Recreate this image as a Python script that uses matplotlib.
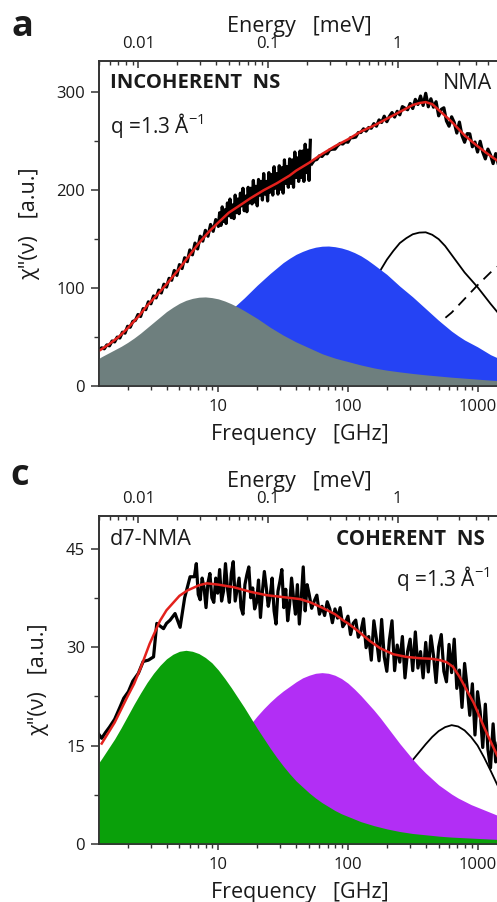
import numpy as np
import matplotlib
matplotlib.use("Agg")
import matplotlib.pyplot as plt
from matplotlib.ticker import LogLocator, FuncFormatter, NullFormatter, MultipleLocator

plt.rcParams['font.family'] = ['Open Sans', 'DejaVu Sans']
plt.rcParams['mathtext.fontset'] = 'custom'
plt.rcParams['mathtext.rm'] = 'Open Sans'

# ---------------- data (log10 of frequency in GHz, values in a.u.) ----------------
GHZ_PER_MEV = 241.8
freq_range = (1.2, 1490.0)

# grid of the fitted components: log10(f) = 0.00, 0.05, ..., 3.30
comp_log_f = np.linspace(0.0, 3.3, 67)

# panel a (NMA, incoherent)
a_gray = [22, 26, 30, 33.5, 37, 40.5, 44.5, 49, 54, 59.5, 65, 70.5, 76, 80.5, 84.5, 87.5, 89.5,
          90.7, 91, 90.3, 89, 86.8, 84, 80.7, 77, 73, 69, 64.5, 60, 56, 52, 48.5, 45, 42, 39,
          36, 33, 30.7, 28.5, 26.7, 25, 23.2, 21.5, 20, 18.5, 17.3, 16.2, 15.3, 14.4, 13.6,
          12.8, 12.1, 11.4, 10.8, 10.2, 9.6, 9.0, 8.5, 8.0, 7.5, 7.0, 6.5, 6.0, 5.6, 5.2, 4.8,
          4.5]
a_blue = [5, 6, 7, 8, 9, 10.5, 12, 14, 16, 18.5, 21, 24.5, 28, 32, 36, 40.5, 45, 50, 55, 60.5,
          66, 72, 78, 84, 90, 96.5, 103, 109, 115, 120.5, 126, 130.5, 134.5, 137.5, 140, 141.8,
          142.8, 143, 142.3, 141, 139, 136.3, 133, 128.8, 124, 119, 114, 108, 102, 96.5, 91, 85,
          79, 73, 67, 61.5, 56, 51.3, 47, 43.5, 40, 36, 32, 29, 26, 23.5, 21]
a_peak_log_f = np.linspace(1.5, 3.3, 37)
a_peak = [10, 12.5, 15, 18.5, 22, 27, 32, 38, 44, 52, 60, 70, 80, 93, 106, 118, 129, 138, 146,
          151, 155, 156.7, 157, 154.5, 150, 143, 134, 125, 116, 108.5, 101, 92.5, 84, 76, 68,
          61, 55]
a_dash_log_f = np.linspace(1.8, 3.3, 16)
a_dash = [3, 5, 7, 10, 14, 20, 26, 35, 48, 64, 75, 89, 103, 116, 127, 136]

a_fit_log_f = [0.08, 0.15, 0.23, 0.30, 0.39, 0.45, 0.54, 0.60, 0.70, 0.78, 0.85, 0.93, 1.00,
               1.08, 1.16, 1.25, 1.35, 1.45, 1.55, 1.60, 1.70, 1.80, 1.90, 2.00, 2.10, 2.20,
               2.30, 2.40, 2.50, 2.55, 2.60, 2.65, 2.70, 2.80, 2.90, 3.00, 3.10, 3.20]
a_fit = [36, 42, 50, 59, 72, 82, 95, 104, 120, 134, 146, 158, 167, 177, 184, 192, 200, 207,
         215, 220, 228, 237, 245, 252, 260, 266, 273, 280, 287, 289, 290, 288, 282, 270, 256,
         245, 235, 226]

# measured spectrum, low-frequency instrument (1.2 - 50 GHz)
a_low_1 = [37, 39, 38, 42, 41, 46, 45, 50, 49, 55, 54, 61, 60, 66, 67, 73, 71, 79, 78, 86,
           84, 92, 90, 98, 95, 104, 101, 110, 108, 118, 113, 124, 120, 131, 127, 139, 134,
           146, 140, 153, 148, 159, 153, 165, 158, 170, 163]
a_low_2 = [177, 164, 183, 168, 180, 166, 187, 174, 191, 172, 185, 171, 195, 177, 191, 176, 197,
           184, 202, 179, 194, 178, 203, 187, 202, 186, 210, 188, 204, 184, 211, 195, 209, 190,
           217, 196, 209, 189, 218, 198, 216, 195, 224, 202, 217, 196, 225, 201, 223, 197, 231,
           207, 224, 203, 232, 207, 231, 203, 239, 213, 233, 209, 240, 213, 240, 209, 247, 218,
           241, 210, 251]
# measured spectrum, high-frequency instrument (50 GHz and up)
a_high = [226.8, 230.6, 231.4, 235.2, 234.5, 237.6, 237.2, 241.3, 241.9, 242, 245.4, 247.8,
          247.2, 249.6, 249, 253.6, 253.7, 254.3, 258.9, 259, 262.7, 260.4, 264.1, 263.3, 268,
          265.4, 271.8, 269.2, 275.6, 270, 275.4, 279.3, 274.7, 280.6, 277, 285.4, 283.8,
          282.2, 288.6, 283.5, 292.8, 287.6, 296.2, 286.6, 299,
          285.2, 293.4, 284.8, 290.4, 276, 282.6, 284.2, 270.8, 265.4, 275, 269.2, 258.4,
          269.6, 255.8, 249, 257.8, 257.6, 244.4, 249.2, 239, 250, 239, 232, 242, 236, 227.2,
          237.4, 226.6, 222.8, 230]

# panel c (d7-NMA, coherent)
c_green = [10.2, 11.6, 13.0, 14.5, 16.0, 17.7, 19.5, 21.3, 23.0, 24.6, 26.0, 27.2, 28.2, 28.9,
           29.35, 29.5, 29.35, 29.0, 28.4, 27.6, 26.5, 25.2, 23.8, 22.3, 20.8, 19.2, 17.6, 16.1,
           14.6, 13.2, 11.9, 10.7, 9.6, 8.7, 7.8, 7.0, 6.3, 5.7, 5.1, 4.6, 4.2, 3.8, 3.4, 3.1,
           2.8, 2.55, 2.3, 2.1, 1.9, 1.75, 1.6, 1.5, 1.4, 1.3, 1.2, 1.12, 1.05, 1.0, 0.95, 0.9,
           0.85, 0.8, 0.75, 0.7, 0.65, 0.6, 0.55]
c_violet = [1.5, 1.75, 2.0, 2.25, 2.5, 2.85, 3.2, 3.6, 4.0, 4.5, 5.1, 5.8, 6.5, 7.2, 7.9, 8.7,
            9.5, 10.3, 11.2, 12.1, 13.0, 14.0, 15.0, 16.0, 17.1, 18.3, 19.5, 20.6, 21.6, 22.5,
            23.3, 24.0, 24.7, 25.3, 25.7, 26.0, 26.1, 26.0, 25.7, 25.2, 24.5, 23.6, 22.6, 21.5,
            20.4, 19.2, 17.9, 16.6, 15.3, 14.1, 12.9, 11.8, 10.8, 9.9, 9.0, 8.3, 7.6, 7.0, 6.5,
            6.0, 5.6, 5.2, 4.8, 4.4, 4.1, 3.8, 3.5]
c_peak_log_f = np.linspace(2.0, 3.3, 27)
c_peak = [2.0, 2.7, 3.5, 4.5, 5.5, 6.7, 8.0, 9.2, 10.5, 11.6, 12.8, 14.0, 15.2, 16.3, 17.2,
          17.8, 18.1, 17.9, 17.3, 16.3, 15.0, 13.2, 11.2, 9.1, 7.2, 5.7, 4.5]

c_fit_log_f = [0.10, 0.20, 0.30, 0.35, 0.40, 0.47, 0.55, 0.60, 0.70, 0.76, 0.85, 0.91, 1.00,
               1.12, 1.25, 1.37, 1.50, 1.63, 1.71, 1.80, 1.90, 1.96, 2.00, 2.08, 2.17, 2.25,
               2.35, 2.45, 2.55, 2.65, 2.71, 2.76, 2.81, 2.86, 2.92, 2.97, 3.05, 3.12, 3.20]
c_fit = [15.3, 18.5, 22.5, 24.4, 26.8, 30.5, 34.0, 35.6, 37.8, 38.6, 39.4, 39.7, 39.5, 39.1,
         38.4, 37.9, 37.6, 37.3, 36.8, 36.0, 35.0, 34.1, 33.6, 32.4, 30.9, 29.8, 28.9, 28.5,
         28.3, 28.2, 28.0, 27.7, 27.0, 25.5, 23.3, 21.5, 17.8, 14.8, 11.5]

c_low_log_f = [0.075, 0.10, 0.13, 0.16, 0.20, 0.24, 0.27, 0.306, 0.34, 0.383, 0.42, 0.46, 0.50,
               0.525, 0.55, 0.577, 0.60, 0.628, 0.666, 0.705, 0.74, 0.782, 0.815]
c_low = [16.8, 16.1, 17.0, 17.8, 19.0, 20.8, 22.2, 23.2, 24.8, 26.0, 27.8, 28.0, 28.5, 33.6,
         33.2, 32.8, 33.6, 34.1, 35.1, 33.0, 37.5, 40.7, 40.7]
c_mid = [42.7, 38.0, 37.2, 40.5, 39.0, 36.0, 39.8, 41.2, 37.5, 36.8, 40.5, 38.2, 41.8, 37.0,
         38.5, 42.7, 39.0, 36.8, 41.2, 43.0, 37.0, 38.8, 40.5, 36.0, 35.0, 39.5, 41.0, 42.2,
         37.5, 39.0, 35.8, 36.8, 40.2, 34.5, 38.5, 41.5, 39.0, 36.2, 37.8, 40.5, 35.5, 33.5,
         38.5, 40.0, 41.8, 36.0, 38.8, 34.0, 36.5, 40.5, 37.5, 35.0, 39.5, 33.5, 37.5, 42.2,
         35.5, 39.5]
c_high = [38.1, 35.9, 37.0, 37.9, 35.0, 36.2, 34.8, 36.9, 35.8, 33.7, 35.8, 34.4, 36.0, 33.1,
          33.7, 34.7, 31.9, 33.6, 34.1, 31.5, 32.4,
          34.3, 29.9, 31.6, 28.0, 34.0, 31.2, 27.9, 34.2, 28.5, 26.3, 31.1, 34.0, 26.4, 30.3,
          27.7, 31.6, 25.3, 29.3, 31.2, 26.4, 32.3, 26.8, 29.3, 25.3, 30.7,
          26.2, 31.7, 28.7, 24.6, 30.0, 31.9, 26.3, 24.7, 30.4, 26.1, 31.2, 23.7, 26.5, 20.8,
          27.5, 23.8, 19.6, 24.4, 16.6, 23.2, 20.2, 14.7, 21.3, 14.4, 11.6, 18.3, 12.5, 15.7,
          8.8, 13.0]

# ---------------- styling ----------------
C_GRAY = '#6e7f7e'
C_BLUE = '#2543f4'
C_GREEN = '#0aa00a'
C_VIOLET = '#b22ef5'
C_RED = '#e3211c'
C_SPINE = '#333333'
TXT = '#1a1a1a'
TICK_FS = 12
LABEL_FS = 15.5
DATA_LW = 2.3
FIT_LW = 1.8


def ghz(logf):
    return 10 ** np.asarray(logf, dtype=float)


fmt = FuncFormatter(lambda v, p: '%g' % v)


def style(ax, ylim, ymaj, ymin):
    ax.set_xscale('log')
    ax.set_xlim(*freq_range)
    ax.set_ylim(*ylim)
    ax.yaxis.set_major_locator(MultipleLocator(ymaj))
    ax.yaxis.set_minor_locator(MultipleLocator(ymin))
    ax.xaxis.set_major_locator(LogLocator(base=10))
    ax.xaxis.set_minor_locator(LogLocator(base=10, subs=np.arange(2, 10)))
    ax.xaxis.set_major_formatter(fmt)
    ax.xaxis.set_minor_formatter(NullFormatter())
    ax.tick_params(axis='y', which='major', direction='out', length=6, width=1.1,
                   pad=4, labelsize=TICK_FS, colors=C_SPINE, labelcolor=TXT)
    ax.tick_params(axis='y', which='minor', direction='out', length=3.5, width=1.0,
                   colors=C_SPINE)
    ax.tick_params(axis='x', which='major', direction='out', length=4.5, width=1.1,
                   pad=5, labelsize=TICK_FS, colors=C_SPINE, labelcolor=TXT)
    ax.tick_params(axis='x', which='minor', direction='out', length=3, width=1.0,
                   colors=C_SPINE)
    for s in ax.spines.values():
        s.set_color(C_SPINE)
        s.set_linewidth(1.2)
    ax.set_xlabel('Frequency   [GHz]', fontsize=LABEL_FS, color=TXT, labelpad=6)
    ax.set_ylabel('χ"(ν)   [a.u.]', fontsize=LABEL_FS, color=TXT, labelpad=12)

    top = ax.twiny()
    top.set_xscale('log')
    top.set_xlim(freq_range[0] / GHZ_PER_MEV, freq_range[1] / GHZ_PER_MEV)
    top.xaxis.set_major_locator(LogLocator(base=10))
    top.xaxis.set_minor_locator(LogLocator(base=10, subs=np.arange(2, 10)))
    top.xaxis.set_major_formatter(fmt)
    top.xaxis.set_minor_formatter(NullFormatter())
    top.tick_params(axis='x', which='major', direction='in', length=5, width=1.1,
                    pad=6.5, labelsize=TICK_FS, colors=C_SPINE, labelcolor=TXT)
    top.tick_params(axis='x', which='minor', direction='in', length=3, width=1.0,
                    colors=C_SPINE)
    for s in top.spines.values():
        s.set_color(C_SPINE)
        s.set_linewidth(1.2)
    top.set_xlabel('Energy   [meV]', fontsize=LABEL_FS, color=TXT, labelpad=3)
    return top


fig = plt.figure(figsize=(4.97, 9.02), dpi=100)
fig.patch.set_facecolor('white')

# ---------------- panel a ----------------
ax_a = fig.add_axes([99 / 497, 516 / 902, 401 / 497, 325 / 902])
ax_a.plot(ghz(a_peak_log_f), a_peak, color='black', lw=1.3, zorder=1)
ax_a.plot(ghz(a_dash_log_f), a_dash, color='black', lw=1.3, dashes=(6, 4), zorder=1)
ax_a.fill_between(ghz(comp_log_f), 0, a_blue, color=C_BLUE, lw=0, zorder=2)
ax_a.fill_between(ghz(comp_log_f), 0, a_gray, color=C_GRAY, lw=0, zorder=3)
a_low_log_f = np.concatenate([np.linspace(0.08, 1.00, len(a_low_1)),
                              np.linspace(1.01, 1.71, len(a_low_2))])
ax_a.plot(ghz(a_low_log_f), a_low_1 + a_low_2, color='black', lw=DATA_LW, zorder=4)
ax_a.plot(ghz(np.linspace(1.72, 3.20, len(a_high))), a_high, color='black', lw=DATA_LW,
          zorder=4)
ax_a.plot(ghz(a_fit_log_f), a_fit, color=C_RED, lw=FIT_LW, zorder=5)
style(ax_a, (0, 332), 100, 50)
ax_a.text(0.027, 0.931, 'INCOHERENT  NS', transform=ax_a.transAxes, fontsize=14.6,
          fontweight='bold', color=TXT, ha='left', va='center')
ax_a.text(0.980, 0.931, 'NMA', transform=ax_a.transAxes, fontsize=15.5, color=TXT,
          ha='right', va='center')
ax_a.text(0.027, 0.80, r'q =1.3 Å$^{\mathregular{-1}}$', transform=ax_a.transAxes,
          fontsize=15, color=TXT, ha='left', va='center')
fig.text(22 / 497, 1 - 27 / 902, 'a', fontsize=26, fontweight='bold', color=TXT,
         ha='center', va='center')

# ---------------- panel c ----------------
ax_c = fig.add_axes([99 / 497, 58 / 902, 401 / 497, 328.3 / 902])
ax_c.plot(ghz(c_peak_log_f), c_peak, color='black', lw=1.3, zorder=1)
ax_c.fill_between(ghz(comp_log_f), 0, c_violet, color=C_VIOLET, lw=0, zorder=2)
ax_c.fill_between(ghz(comp_log_f), 0, c_green, color=C_GREEN, lw=0, zorder=3)
c_all_log_f = np.concatenate([c_low_log_f,
                              np.linspace(0.83, 1.685, len(c_mid)),
                              np.linspace(1.70, 3.20, len(c_high))])
ax_c.plot(ghz(c_all_log_f), c_low + c_mid + c_high, color='black', lw=DATA_LW, zorder=4)
ax_c.plot(ghz(c_fit_log_f), c_fit, color=C_RED, lw=FIT_LW, zorder=5)
style(ax_c, (0, 50), 15, 7.5)
ax_c.text(0.027, 0.926, 'd7-NMA', transform=ax_c.transAxes, fontsize=15.5, color=TXT,
          ha='left', va='center')
ax_c.text(0.963, 0.926, 'COHERENT  NS', transform=ax_c.transAxes, fontsize=14.8,
          fontweight='bold', color=TXT, ha='right', va='center')
ax_c.text(0.975, 0.81, r'q =1.3 Å$^{\mathregular{-1}}$', transform=ax_c.transAxes,
          fontsize=15, color=TXT, ha='right', va='center')
fig.text(20 / 497, 1 - 476 / 902, 'c', fontsize=26, fontweight='bold', color=TXT,
         ha='center', va='center')

fig.savefig('out.png', dpi=100)
